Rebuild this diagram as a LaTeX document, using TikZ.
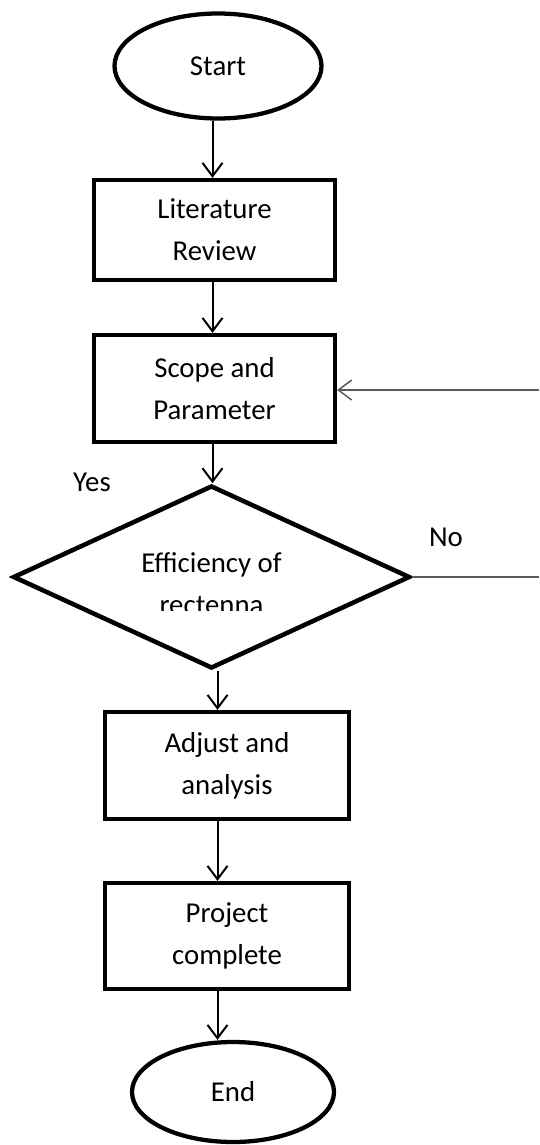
\documentclass[tikz,border=0pt]{standalone}
\usepackage{fontspec}
\setmainfont{Carlito}
\usepackage{xcolor}
\definecolor{LineGray}{RGB}{90,90,90}
\usepackage{tikz}
\usetikzlibrary{positioning, arrows.meta, shapes.geometric}

\tikzset{
  proc/.style={draw, line width=3.2pt, rectangle, align=center, minimum width=180.75pt, minimum height=80.25pt, inner sep=0pt},
  term/.style={draw, line width=3.2pt, ellipse, inner sep=0pt},
  decis/.style={draw, line width=3.4pt, diamond, minimum width=297.75pt, minimum height=137.25pt, inner sep=0pt},
  arr/.style={line width=1.5pt, -{Straight Barb[length=10pt, width=15pt, line width=1.5pt]}},
  side/.style={line width=1.1pt, LineGray},
  lbl/.style={inner sep=0pt}
}

\begin{document}
\begin{tikzpicture}[x=0.75pt, y=-0.75pt, font=\fontsize{21.6}{31.5}\selectfont]
			\useasboundingbox (0,0) rectangle (539,1145);
			% Inicio / Start
			\node[term, minimum width=155.25pt, minimum height=78.75pt] (start) at (218,66) {Start};
			% Procesos / Steps
			\node[proc, minimum height=75pt] (lit) at (214.5,230) {Literature\\Review};
			\node[proc] (scope) at (214.5,388.5) {Scope and\\Parameter};
			% Decision
			\node[decis] (dec) at (211.5,577) {};
			\begin{scope}
			\clip (0,470) rectangle (539,610);
			\node[align=center, inner sep=0pt] (dectext) at (211.5,584) {Efficiency of\\rectenna};
			\end{scope}
			\node[proc, minimum width=183pt] (adjust) at (227,765.5) {Adjust and\\analysis};
			\node[proc, minimum width=183pt, minimum height=79.5pt] (proj) at (227,936) {Project\\complete};
			% Fin / End
			\node[term, minimum width=151.5pt, minimum height=75pt] (end) at (233,1092) {End};
			% Columnas / Arrow columns
			\coordinate (colA) at (212.5,0);
			\coordinate (colB) at (217.5,0);
			\coordinate (fbin) at (539,390);
			\coordinate (noout) at (539,577);
			% Flechas / Arrows
			\draw[arr] (start.south -| colA) -- (lit.north -| colA);
			\draw[arr] (lit.south -| colA) -- (scope.north -| colA);
			\draw[arr] (scope.south -| colA) -- (dec.north -| colA);
			\draw[arr] (dec.south -| colB) -- (adjust.north -| colB);
			\draw[arr] (adjust.south -| colB) -- (proj.north -| colB);
			\draw[arr] (proj.south -| colB) -- (end.north -| colB);
			% Retorno / Feedback
			\draw[side] (dec.east) -- (noout);
			\draw[side, -{Straight Barb[length=10pt, width=15pt, line width=1.1pt]}] (fbin) -- (scope.east |- fbin);
			% Etiquetas / Labels
			\node[lbl] (yes) at (92,482) {Yes};
			\node[lbl] (no) at (446,537) {No};
			\end{tikzpicture}
\end{document}
